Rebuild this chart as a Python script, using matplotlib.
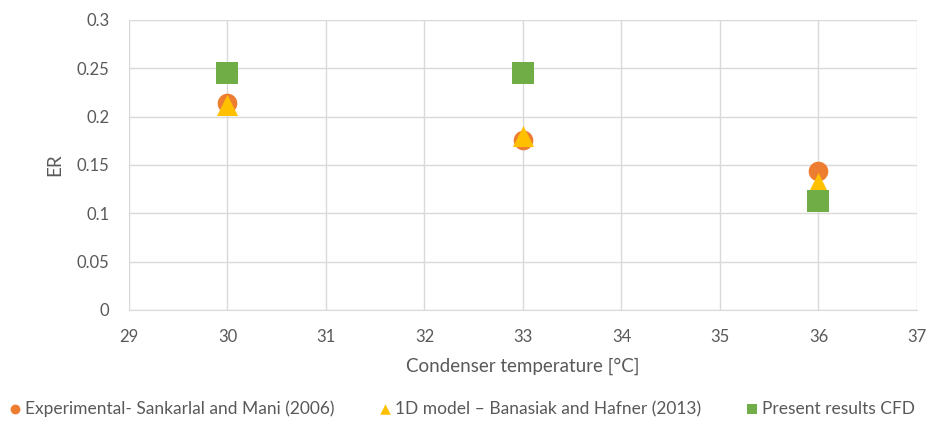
import matplotlib
matplotlib.use("Agg")
import matplotlib.pyplot as plt

temps = [30, 33, 36]
er_experimental = [0.214, 0.176, 0.144]
er_1d_model = [0.212, 0.180, 0.131]
er_cfd = [0.245, 0.245, 0.113]

labels = [
    "Experimental- Sankarlal and Mani (2006)",
    "1D model \u2013 Banasiak and Hafner (2013)",
    "Present results CFD",
]

plt.rcParams["font.family"] = ["Lato", "DejaVu Sans"]
text_color = "#595959"
grid_color = "#d9d9d9"

fig = plt.figure(figsize=(9.3, 4.25), dpi=100)
ax = fig.add_axes([0.1387, 0.2706, 0.8473, 0.6824])

ax.scatter(temps, er_experimental, marker="o", s=200, color="#ED7D31",
           label=labels[0], zorder=3, linewidths=0)
ax.scatter(temps, er_1d_model, marker="^", s=230, color="#FFC000",
           label=labels[1], zorder=4, linewidths=0)
ax.scatter(temps, er_cfd, marker="s", s=230, color="#70AD47",
           label=labels[2], zorder=5, linewidths=0)

ax.set_xlim(29, 37)
ax.set_ylim(0, 0.3)
ax.set_xticks(range(29, 38))
ax.set_yticks([0, 0.05, 0.1, 0.15, 0.2, 0.25, 0.3])
ax.set_yticklabels(["0", "0.05", "0.1", "0.15", "0.2", "0.25", "0.3"])
ax.grid(True, color=grid_color, linewidth=1)
ax.set_axisbelow(True)
for side in ("top", "right", "left"):
    ax.spines[side].set_visible(False)
ax.spines["bottom"].set_color(grid_color)
ax.tick_params(axis="y", length=0, labelsize=12, colors=text_color, pad=14)
ax.tick_params(axis="x", length=0, labelsize=12, colors=text_color, pad=14)

ax.set_xlabel("Condenser temperature [\u00b0C]", fontsize=13.5, color=text_color, labelpad=9)
ax.set_ylabel("ER", fontsize=13.5, color=text_color, labelpad=10)

handles, lbls = ax.get_legend_handles_labels()
leg = fig.legend(handles, lbls, loc="lower center", bbox_to_anchor=(0.497, -0.018),
                 ncol=3, frameon=False, fontsize=12.5, markerscale=0.5,
                 handlelength=0.6, handletextpad=0.3, columnspacing=2.6,
                 labelcolor=text_color)

fig.savefig("out.png", dpi=100)
